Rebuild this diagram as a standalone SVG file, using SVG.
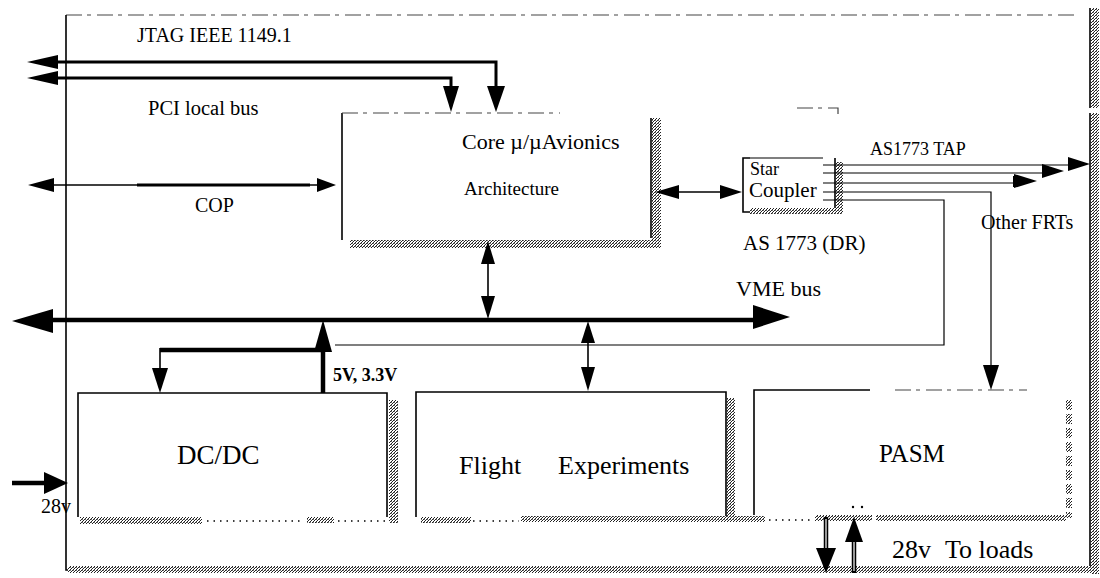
<svg xmlns="http://www.w3.org/2000/svg" width="1100" height="578" viewBox="0 0 1100 578" font-family="'Liberation Serif', 'Times New Roman', 'DejaVu Serif', serif">
<defs>
<pattern id="dither" width="3" height="3" patternUnits="userSpaceOnUse">
<rect width="3" height="3" fill="#fff"/>
<rect x="0" y="0" width="1" height="1" fill="#222"/>
<rect x="2" y="1" width="1" height="1" fill="#222"/>
<rect x="1" y="2" width="1" height="1" fill="#222"/>
<rect x="1" y="0" width="1" height="1" fill="#777"/>
</pattern>
</defs>
<style>
.t{font-family:'Liberation Serif','Times New Roman','DejaVu Serif',serif;fill:#000}
.ln{stroke:#000;fill:none;stroke-width:1.6}
.thin{stroke:#000;fill:none;stroke-width:1.2}
.thick{stroke:#000;fill:none;stroke-width:3}
.bus{stroke:#000;fill:none;stroke-width:4.5}
.ah{fill:#000;stroke:none}
.sh{fill:url(#dither)}
.dash{stroke:#444;fill:none;stroke-width:1.2;stroke-dasharray:16 5 4 6}
.dot{stroke:#000;fill:none;stroke-width:1.5;stroke-dasharray:1.5 5}
</style>
<rect width="1100" height="578" fill="#fff"/>

<g id="frame">
<path class="dash" d="M66 15 H1076"/>
<path class="ln" d="M66 15 V570 H80"/>
<path class="ln" d="M1090 8 V108 M1090 113 V568"/>
<rect class="sh" x="1091" y="8" width="8" height="100"/>
<rect class="sh" x="1091" y="113" width="8" height="461"/>
<rect class="sh" x="68" y="566" width="1031" height="7"/>
<text class="t" font-family="Liberation Serif, serif" x="137" y="42" font-size="20">JTAG IEEE 1149.1</text>
<text class="t" font-family="Liberation Serif, serif" x="148" y="115" font-size="20.5">PCI local bus</text>
<text class="t" font-family="Liberation Serif, serif" x="195" y="212" font-size="20">COP</text>
<text class="t" font-family="Liberation Serif, serif" x="736" y="296" font-size="22">VME bus</text>
<text class="t" font-family="Liberation Serif, serif" x="333" y="381" font-size="18" font-weight="bold">5V, 3.3V</text>
<text class="t" font-family="Liberation Serif, serif" x="870" y="155" font-size="18">AS1773 TAP</text>
<text class="t" font-family="Liberation Serif, serif" x="743" y="250" font-size="21">AS 1773 (DR)</text>
<text class="t" font-family="Liberation Serif, serif" x="981" y="229" font-size="20">Other FRTs</text>
<text class="t" font-family="Liberation Serif, serif" x="41" y="513" font-size="20">28v</text>
<text class="t" font-family="Liberation Serif, serif" x="892" y="558" font-size="26">28v</text>
<text class="t" font-family="Liberation Serif, serif" x="945" y="558" font-size="26">To loads</text>
<path class="dash" d="M797 108 H838 V114"/>
</g>

<g id="core">
<path class="ln" d="M342 240 V113"/>
<path class="dash" d="M342 113 H560"/>
<path class="ln" d="M651 118 V238"/>
<rect class="sh" x="652" y="118" width="9" height="130"/>
<rect class="sh" x="350" y="240" width="311" height="8"/>
<text class="t" font-family="Liberation Serif, serif" x="462" y="149" font-size="22">Core µ/µAvionics</text>
<text class="t" font-family="Liberation Serif, serif" x="464" y="195" font-size="19">Architecture</text>
</g>

<g id="coupler">
<path class="ln" d="M750 158 H743 V212 H750"/>
<path class="thin" d="M750 158 H823"/>
<path class="ln" d="M835 158 V210"/>
<rect class="sh" x="836" y="162" width="7" height="52"/>
<rect class="sh" x="750" y="208" width="93" height="6"/>
<text class="t" font-family="Liberation Serif, serif" x="750" y="175" font-size="18">Star</text>
<text class="t" font-family="Liberation Serif, serif" x="749" y="197" font-size="21">Coupler</text>
</g>

<g id="dcdc">
<path class="ln" d="M78 517 V393 H387 V517"/>
<rect class="sh" x="389" y="400" width="9" height="123"/>
<rect class="sh" x="80" y="517" width="122" height="7"/>
<path class="dot" d="M207 521 H303"/>
<rect class="sh" x="307" y="517" width="27" height="6"/>
<path class="dot" d="M338 521 H388"/>
<text class="t" font-family="Liberation Serif, serif" x="177" y="464" font-size="27">DC/DC</text>
</g>

<g id="flight">
<path class="ln" d="M416 517 V392 H726 V517"/>
<rect class="sh" x="727" y="398" width="8" height="122"/>
<rect class="sh" x="421" y="517" width="50" height="6"/>
<path class="dot" d="M473 521 H519"/>
<rect class="sh" x="521" y="516" width="244" height="6"/>
<text class="t" font-family="Liberation Serif, serif" y="474" font-size="26"><tspan x="459">Flight</tspan><tspan x="558">Experiments</tspan></text>
</g>

<g id="pasm">
<path class="ln" d="M754 515 V390 H870"/>
<path class="dash" d="M895 390 H1027"/>
<path stroke="url(#dither)" stroke-width="6" stroke-dasharray="10 4" fill="none" d="M1069 400 V518"/>
<path class="dot" d="M769 520 H811"/>
<rect class="sh" x="815" y="515" width="57" height="6"/>
<rect class="sh" x="876" y="515" width="190" height="6"/>
<circle cx="853" cy="507" r="1.2"/>
<circle cx="862" cy="507" r="1.2"/>
<text class="t" font-family="Liberation Serif, serif" x="879" y="462" font-size="25">PASM</text>
</g>

<g id="connectors">
<path class="thick" d="M57 62 H496 V88"/>
<polygon class="ah" points="27,62 58,55 58,69"/>
<polygon class="ah" points="487,86 505,86 496,112"/>
<path class="thick" d="M57 78 H451 V88"/>
<polygon class="ah" points="27,78 58,71 58,85"/>
<polygon class="ah" points="443,86 459,86 451,112"/>
<path class="ln" d="M53 185 H318"/>
<path class="thick" d="M137 185 H310"/>
<polygon class="ah" points="28,185 54,178 54,192"/>
<polygon class="ah" points="336,185 317,178 317,192"/>
<path class="ln" d="M676 192 H722"/>
<polygon class="ah" points="655,192 679,185 679,199"/>
<polygon class="ah" points="742,192 720,185 720,199"/>
<path class="thin" d="M823 165 H1069"/>
<polygon class="ah" points="1090,164 1068,157 1068,171"/>
<path class="thin" d="M823 173 H1043"/>
<polygon class="ah" points="1064,171 1042,164 1042,178"/>
<path class="thin" d="M823 183 H1015"/>
<polygon class="ah" points="1037,181 1014,174 1014,188"/>
<rect x="1013" y="176" width="4" height="11"/>
<path class="thin" d="M823 192 H991 V366"/>
<polygon class="ah" points="983,365 999,365 991,390"/>
<path class="thin" d="M823 200 H944 V345 H335"/>
<path class="bus" d="M50 320 H756"/>
<polygon class="ah" points="12,321 53,309 53,333"/>
<polygon class="ah" points="790,317 753,305 753,329"/>
<path class="ln" d="M488 262 V298"/>
<polygon class="ah" points="488,241 481,264 495,264"/>
<polygon class="ah" points="488,319 481,296 495,296"/>
<path class="ln" d="M588 341 V369"/>
<polygon class="ah" points="588,321 581,343 595,343"/>
<polygon class="ah" points="588,391 581,367 595,367"/>
<path class="bus" d="M323 350 V393"/>
<polygon class="ah" points="323,320 314,352 332,352"/>
<path class="bus" d="M323 350 H160"/>
<path class="ln" d="M160 348 V370" stroke-width="2.2"/>
<polygon class="ah" points="160,393 152,368 168,368"/>
<path class="bus" d="M12 483 H46"/>
<polygon class="ah" points="68,483 44,472 44,494"/>
<path class="bus" d="M826 517 V550"/>
<path stroke="#fff" stroke-width="1.2" d="M826 519 V548"/>
<polygon class="ah" points="826,573 816,548 836,548"/>
<path class="bus" d="M854 540 V573"/>
<path stroke="#fff" stroke-width="1.2" d="M854 542 V571"/>
<polygon class="ah" points="854,517 845,542 863,542"/>
</g>
</svg>
